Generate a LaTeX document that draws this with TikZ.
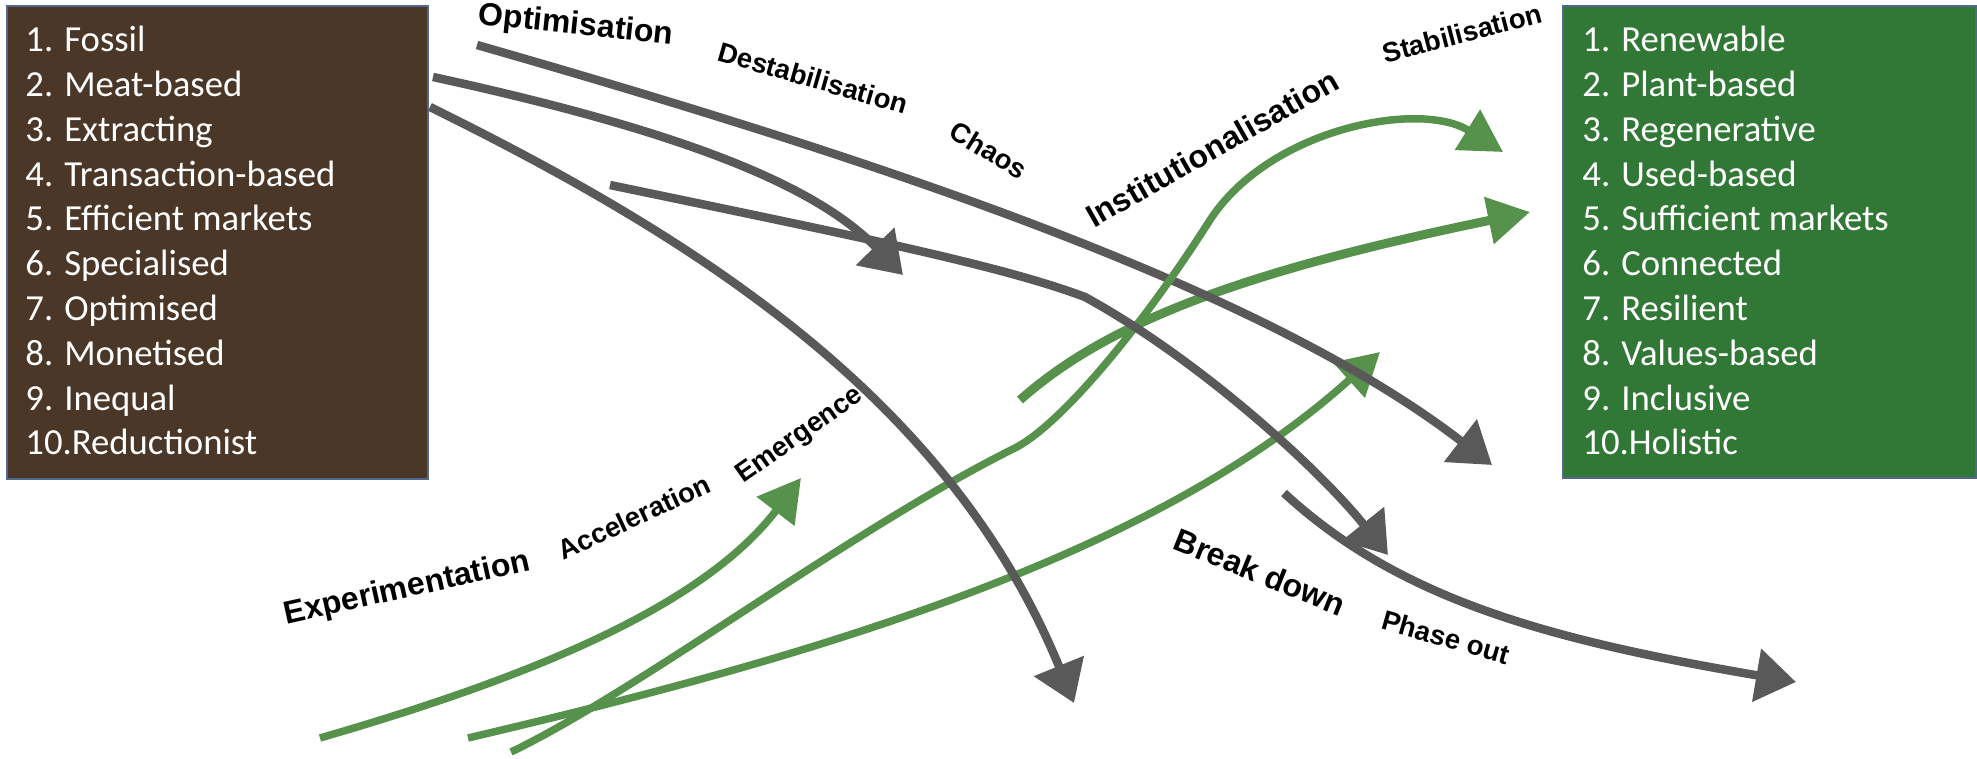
\documentclass[tikz,border=0pt]{standalone}
\usepackage{fontspec}
\newfontfamily\boxfont{Carlito}
\newfontfamily\labfont{Liberation Sans}
\usetikzlibrary{arrows.meta}
\definecolor{brownfill}{HTML}{4A3728}
\definecolor{greenfill}{HTML}{317836}
\definecolor{boxedge}{HTML}{51688A}
\definecolor{arrowgray}{HTML}{595959}
\definecolor{arrowgreen}{HTML}{57924C}
\begin{document}
\begin{tikzpicture}[x=0.5pt,y=-0.5pt,
  panel/.style={draw=boxedge, line width=0.75pt, anchor=north west, inner sep=0pt, outer sep=0pt},
  itemtext/.style={text=white, anchor=base west, inner sep=0pt, font=\boxfont\fontsize{18.35pt}{22pt}\selectfont},
  biglabel/.style={font=\labfont\bfseries\fontsize{16pt}{19pt}\selectfont, inner sep=0pt},
  smalllabel/.style={font=\labfont\bfseries\fontsize{13.75pt}{16pt}\selectfont, inner sep=0pt},
  grayflow/.style={draw=arrowgray, line width=4.25pt, -{Triangle[length=20pt,width=26pt]}},
  greenflow/.style={draw=arrowgreen, line width=3.75pt, -{Triangle[length=21pt,width=23pt]}},
]
\path[use as bounding box] (0,0) rectangle (1977,759);

% boxes
\node[panel, fill=brownfill, minimum width=210.5pt, minimum height=236.5pt] (leftbox) at (7,6) {};
\node[panel, fill=greenfill, minimum width=206.5pt, minimum height=236pt] (rightbox) at (1563,6) {};

\foreach \t [count=\i] in {1. Fossil, 2. Meat-based, 3. Extracting, 4. Transaction-based, 5. Efficient markets, 6. Specialised, 7. Optimised, 8. Monetised, 9. Inequal, 10.Reductionist}
  \node[itemtext] (L\i) at (25, {51.7+44.8*(\i-1)}) {\t};
\foreach \t [count=\i] in {1. Renewable, 2. Plant-based, 3. Regenerative, 4. Used-based, 5. Sufficient markets, 6. Connected, 7. Resilient, 8. Values-based, 9. Inclusive, 10.Holistic}
  \node[itemtext] (R\i) at (1582, {51.7+44.8*(\i-1)}) {\t};

% end points
\coordinate (g1s) at (511,752); \coordinate (g1m) at (1015,448); \coordinate (g1n) at (1210,220); \coordinate (g1e) at (1503,152);
\coordinate (g2s) at (1020,400); \coordinate (g2e) at (1530,212);
\coordinate (g3s) at (320,738);  \coordinate (g3e) at (801,478);
\coordinate (g4s) at (468,738);  \coordinate (g4e) at (1380,352);
\coordinate (a0) at (477,45);   \coordinate (a1) at (1492,465);
\coordinate (b0) at (433,77);   \coordinate (b1) at (903,275);
\coordinate (c0) at (430,107);  \coordinate (c1) at (1074,703);
\coordinate (d0) at (610,185);  \coordinate (dm) at (1085,297); \coordinate (d1) at (1388,555);
\coordinate (e0) at (1284,493); \coordinate (e1) at (1796,682);

% flows, in stacking order of the reference
\draw[greenflow, line width=4.5pt] (g2s) .. controls (1110,320) and (1250,270) .. (g2e);
\draw[greenflow] (g3s) .. controls (520,680) and (700,610) .. (g3e);
\draw[greenflow] (g4s) .. controls (800,660) and (1150,560) .. (g4e);
\draw[grayflow] (a0) .. controls (850,152) and (1255,282) .. (a1);
\draw[greenflow] (g1s) .. controls (640,690) and (850,530) .. (g1m)
                       .. controls (1060,425) and (1140,330) .. (g1n)
                       .. controls (1270,128) and (1420,100) .. (g1e);
\draw[grayflow] (b0) .. controls (700,135) and (820,190) .. (b1);
\draw[grayflow] (c0) .. controls (700,240) and (950,400) .. (c1);
\draw[grayflow] (d0) .. controls (850,235) and (1000,265) .. (dm)
                     .. controls (1200,360) and (1320,470) .. (d1);
\draw[grayflow] (e0) .. controls (1400,600) and (1550,640) .. (e1);

% labels
\node[biglabel, rotate=-6] (optim) at (576,26) {Optimisation};
\node[smalllabel, rotate=-16] (destab) at (813,78) {Destabilisation};
\node[smalllabel, rotate=-31] (chaos) at (989,150) {Chaos};
\node[biglabel, rotate=29.6] (instit) at (1212,148) {Institutionalisation};
\node[smalllabel, rotate=14.6] (stabil) at (1462,33) {Stabilisation};
\node[biglabel, rotate=12.5] (experi) at (407,589) {Experimentation};
\node[smalllabel, rotate=25] (accel) at (634,517) {Acceleration};
\node[smalllabel, rotate=35] (emerg) at (800,436) {Emergence};
\node[biglabel, rotate=-22] (breakd) at (1260,572) {Break down};
\node[smalllabel, rotate=-16] (phase) at (1446,637) {Phase out};
\end{tikzpicture}
\end{document}
